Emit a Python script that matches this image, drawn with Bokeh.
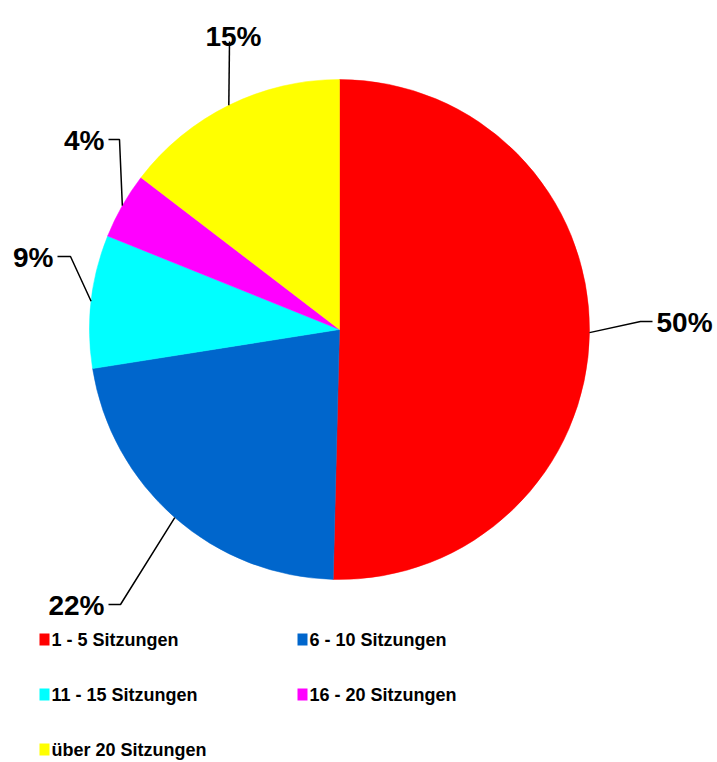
import math
from bokeh.plotting import figure
from bokeh.models import Range1d, ColumnDataSource
from bokeh.core.properties import value
from bokeh.embed import file_html
from bokeh.resources import INLINE

# ---- data ----
categories = ["1 - 5 Sitzungen", "6 - 10 Sitzungen", "11 - 15 Sitzungen",
              "16 - 20 Sitzungen", "über 20 Sitzungen"]
shares = [50.4, 22.1, 8.6, 4.3, 14.6]
colors = ["#FF0000", "#0066CC", "#00FFFF", "#FF00FF", "#FFFF00"]

# ---- layout (pixel coords, y measured from top) ----
W, H = 717, 762
CX, CY, R = 339, 329, 250
FONT = "Liberation Sans"

# leader line: elbow and end points, text anchor / alignment for each slice
elbows = [(640, 321), (120, 604), (70, 256), (119, 139), (229, 41)]
ends = [(652, 321), (108, 604), (57, 256), (108, 139), (229, 41)]
text_pos = [(656, 322), (104, 605), (53, 257), (104, 140), (233, 36)]
text_align = ["left", "right", "right", "right", "center"]

legend_pos = [(39, 639), (297, 639), (39, 694), (297, 694), (39, 749)]


def fy(y):
    return H - y


p = figure(width=W, height=H, x_range=Range1d(0, W), y_range=Range1d(0, H),
           output_backend="svg", toolbar_location=None, min_border=0,
           background_fill_color="white", border_fill_color="white")
p.axis.visible = False
p.grid.visible = False
p.outline_line_color = None

total = sum(shares)
cum = 0.0
starts, stops, mids = [], [], []
for v in shares:
    a0 = cum / total
    cum += v
    a1 = cum / total
    starts.append(math.pi / 2 - a0 * 2 * math.pi)
    stops.append(math.pi / 2 - a1 * 2 * math.pi)
    mids.append((a0 + a1) / 2 * 2 * math.pi)

src = ColumnDataSource(dict(start=starts, end=stops, color=colors))
p.wedge(x=CX, y=fy(CY), radius=R, start_angle="start", end_angle="end",
        direction="clock", fill_color="color", line_color="color",
        line_width=0.5, source=src)

# leader lines and labels
for i, v in enumerate(shares):
    th = mids[i]
    sx = CX + R * math.sin(th)
    sy = CY - R * math.cos(th)
    xs = [sx, elbows[i][0], ends[i][0]]
    ys = [fy(sy), fy(elbows[i][1]), fy(ends[i][1])]
    p.line(xs, ys, line_color="black", line_width=1.5)
    p.text(x=[text_pos[i][0]], y=[fy(text_pos[i][1])], text=[f"{round(v)}%"],
           text_font=value(FONT), text_font_style="bold",
           text_font_size="28px", text_align=text_align[i],
           text_baseline="alphabetic", text_color="black")

# legend
for i, cat in enumerate(categories):
    lx, ly = legend_pos[i]
    p.rect(x=[lx + 5], y=[fy(ly)], width=10, height=12,
           fill_color=colors[i], line_color=None)
    p.text(x=[lx + 12], y=[fy(ly)], text=[cat], text_font=value(FONT),
           text_font_style="bold", text_font_size="18px",
           text_align="left", text_baseline="middle", text_color="black")

open("out.html", "w").write(file_html(p, INLINE))
